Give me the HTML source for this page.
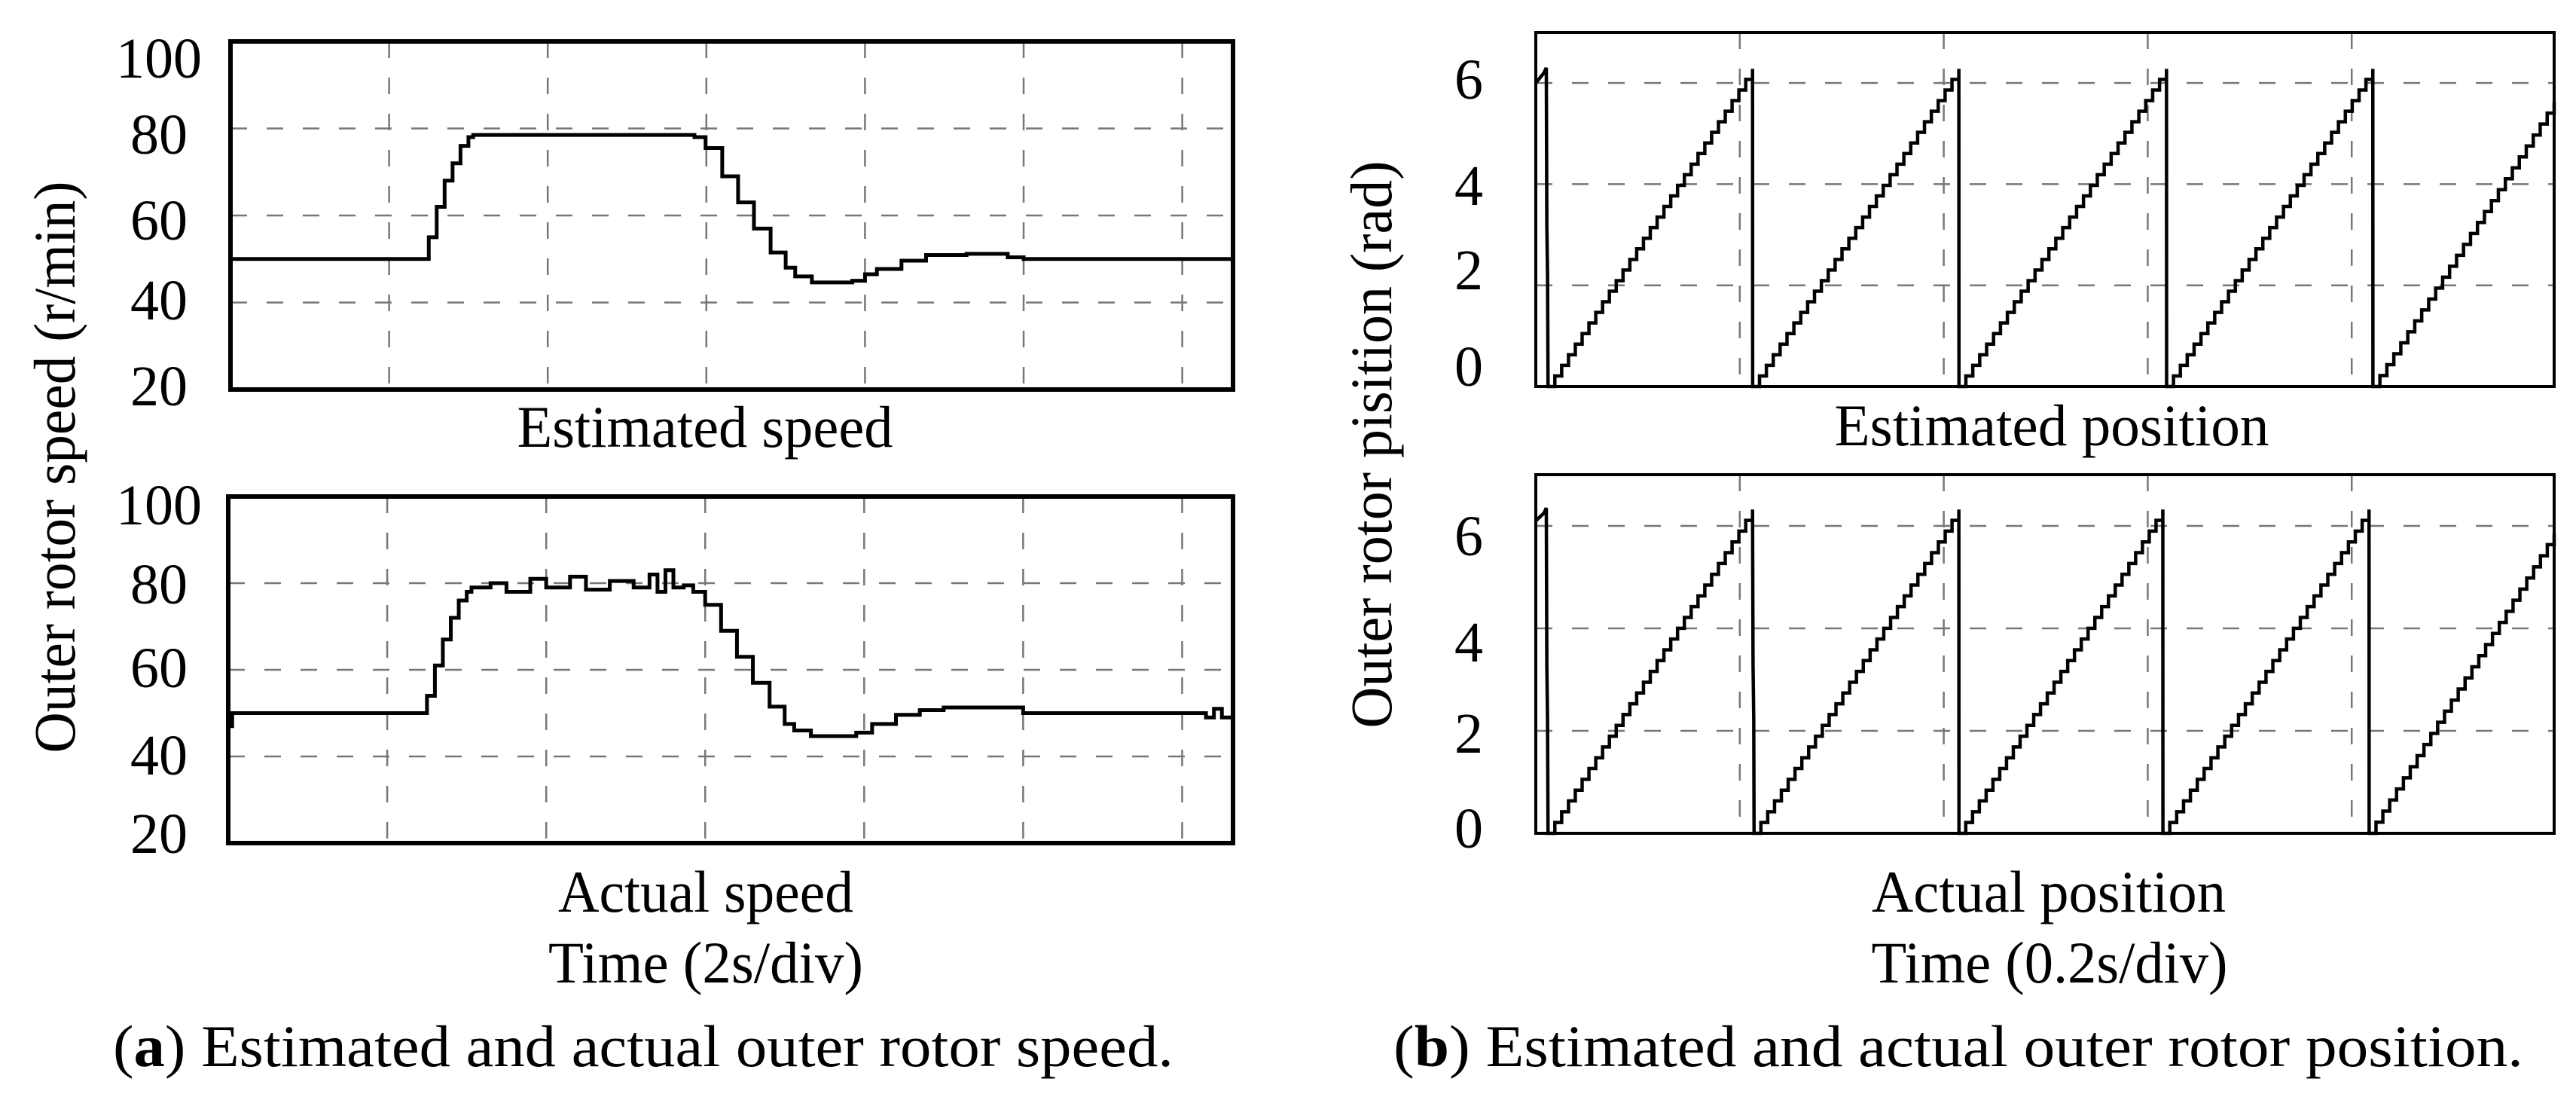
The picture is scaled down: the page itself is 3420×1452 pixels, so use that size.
<!DOCTYPE html>
<html><head><meta charset="utf-8"><style>
html,body{margin:0;padding:0;background:#fff;}
svg{display:block;font-family:"Liberation Serif",serif;}
</style></head><body>
<svg id="fig" width="3420" height="1452" viewBox="0 0 3420 1452" xmlns="http://www.w3.org/2000/svg">
<rect width="3420" height="1452" fill="#fff"/>
<g id="root"></g>
</svg>
<script>
// ---- Speed data (panel a), time in s, speed in r/min ----
const estSpeedT = [0, 2.44, 2.5, 2.6, 2.7, 2.8, 2.9, 3.0, 3.06, 5.73, 5.85, 5.99, 6.2, 6.4, 6.6, 6.81, 7.0, 7.12, 7.33, 7.6, 7.84, 8.0, 8.15, 8.46, 8.77, 9.28, 9.8, 10.0, 12.64];
const estSpeedV = [50, 50, 55, 62, 68, 72, 76, 78, 78.5, 78.5, 78, 75.5, 69, 63, 57, 51.5, 48, 46, 44.6, 44.6, 45, 46.5, 47.7, 49.6, 50.9, 51.2, 50.4, 50, 50];
const actSpeedT = [0, 0.05, 2.3, 2.44, 2.5, 2.6, 2.7, 2.8, 2.9, 3.0, 3.06, 3.3, 3.5, 3.8, 4.0, 4.3, 4.5, 4.8, 5.1, 5.3, 5.4, 5.5, 5.6, 5.73, 5.85, 6.0, 6.2, 6.4, 6.6, 6.81, 7.0, 7.12, 7.33, 7.7, 7.9, 8.1, 8.4, 8.7, 9.0, 9.8, 10.0, 12.2, 12.3, 12.4, 12.5, 12.64];
const actSpeedV = [47, 50, 50, 50, 54, 61, 67, 72, 76, 78, 79, 80, 78, 81, 79, 81.5, 78.5, 80.5, 79, 82, 78, 83, 79, 79.5, 78, 75, 69, 63, 57, 51.5, 47.5, 46, 44.7, 44.7, 45.5, 47.5, 49.6, 50.7, 51.3, 51.3, 50, 50, 49, 51, 49, 50];
const speedTicks = [20, 40, 60, 80, 100];
const speedTickLabels = ["20", "40", "60", "80", "100"];
// ---- Position data (panel b), time in s, position in rad ----
const estPosT = [0, 0.008, 0.0103, 0.0108, 0.0115, 0.012, 0.2125, 0.2126, 0.4148, 0.4149, 0.6184, 0.6185, 0.8207, 0.8208, 0.9985];
const estPosV = [6.0, 6.2, 6.3, 3.2, 2.2, 0, 6.28, 0, 6.28, 0, 6.28, 0, 6.28, 0, 5.62];
const actPosT = [0, 0.008, 0.0103, 0.0108, 0.0115, 0.012, 0.2125, 0.213, 0.2137, 0.214, 0.4148, 0.4149, 0.6148, 0.6149, 0.8170, 0.8171, 0.9985];
const actPosV = [6.1, 6.25, 6.35, 3.3, 2.2, 0, 6.32, 3.3, 2.2, 0, 6.32, 0, 6.32, 0, 6.32, 0, 5.85];
const posTicks = [0, 2, 4, 6];
const posTickLabels = ["0", "2", "4", "6"];

const NS = "http://www.w3.org/2000/svg";
const root = document.getElementById("root");
function mk(tag, attrs, parent) {
  const e = document.createElementNS(NS, tag);
  for (const k in attrs) e.setAttribute(k, attrs[k]);
  (parent || root).appendChild(e);
  return e;
}

function panel(cfg) {
  const g = mk("g", {});
  
  
  const sx = t => cfg.x0 + (t - cfg.t0) / (cfg.t1 - cfg.t0) * (cfg.x1 - cfg.x0);
  const sy = v => cfg.y1 - (v - cfg.v0) / (cfg.v1 - cfg.v0) * (cfg.y1 - cfg.y0);
  const grid = mk("g", {stroke: "#777", "stroke-width": 2.5, "stroke-dasharray": "22,26", fill: "none"}, g);
  
  
  for (let t = cfg.t0 + cfg.div; t < cfg.t1 - cfg.div * 0.05; t += cfg.div) {
    const l = mk("line", {x1: sx(t), x2: sx(t), y1: cfg.y0, y2: cfg.y1}, grid);
    
    
  }
  cfg.ticks.forEach(v => {
    if (v <= cfg.v0 || v >= cfg.v1) return;
    const l = mk("line", {x1: cfg.x0, x2: cfg.x1, y1: sy(v), y2: sy(v)}, grid);
    
    
  });
  cfg.ticks.forEach((v, i) => {
    const tx = mk("text", {x: cfg.labelX, y: cfg.labelBase[i], "font-size": 76, "text-anchor": "middle", fill: "#000"}, g);
    tx.textContent = cfg.tickLabels[i];
    
    
  });
  let d = "";
  cfg.T.forEach((t, i) => {
    const X = sx(t), Y = sy(cfg.V[i]);
    if (i === 0) { d += "M" + X + "," + Y; return; }
    if (cfg.step) { d += "H" + X + "V" + Y; return; }
    const pX = sx(cfg.T[i - 1]), pY = sy(cfg.V[i - 1]);
    const n = Math.floor((X - pX) / 9);
    if (n >= 3 && Y < pY) {
      for (let k = 1; k <= n; k++) {
        const xx = pX + (X - pX) * k / n, yy = pY + (Y - pY) * k / n;
        d += "H" + xx + "V" + yy;
      }
    } else d += "L" + X + "," + Y;
  });
  const p = mk("path", {d: d, fill: "none", stroke: "#000", "stroke-width": cfg.lw, "stroke-linejoin": "miter"}, g);
  
  
  const fr = mk("rect", {x: cfg.x0, y: cfg.y0, width: cfg.x1 - cfg.x0, height: cfg.y1 - cfg.y0, fill: "none", stroke: "#000", "stroke-width": cfg.fw}, g);
  
  
}

panel({name: "estimated-speed-plot", x0: 306, x1: 1637, y0: 55, y1: 517, t0: 0, t1: 12.64, div: 2, v0: 20, v1: 100,
  ticks: speedTicks, tickLabels: speedTickLabels, labelX: 211, labelBase: [538, 424, 318, 204, 103],
  T: estSpeedT, V: estSpeedV, step: true, lw: 5, fw: 6});
panel({name: "actual-speed-plot", x0: 303, x1: 1637, y0: 659, y1: 1119, t0: 0, t1: 12.64, div: 2, v0: 20, v1: 100,
  ticks: speedTicks, tickLabels: speedTickLabels, labelX: 211, labelBase: [1132, 1028, 912, 801, 696],
  T: actSpeedT, V: actSpeedV, step: true, lw: 5, fw: 6});
panel({name: "estimated-position-plot", x0: 2039, x1: 3391, y0: 43, y1: 513, t0: 0, t1: 0.9985, div: 0.2, v0: 0, v1: 7,
  ticks: posTicks, tickLabels: posTickLabels, labelX: 1950, labelBase: [512, 384, 272, 131],
  T: estPosT, V: estPosV, step: false, lw: 4.5, fw: 4});
panel({name: "actual-position-plot", x0: 2039, x1: 3391, y0: 630, y1: 1106, t0: 0, t1: 0.9985, div: 0.2, v0: 0, v1: 7,
  ticks: posTicks, tickLabels: posTickLabels, labelX: 1950, labelBase: [1125, 999, 878, 737],
  T: actPosT, V: actPosV, step: false, lw: 4.5, fw: 4});

function label(txt, x, y, len, name, rot) {
  const t = mk("text", {x: x, y: y, "font-size": 78, "text-anchor": "middle", fill: "#000", textLength: len, lengthAdjust: "spacingAndGlyphs"});
  if (rot) t.setAttribute("transform", "rotate(-90 " + x + " " + y + ")");
  t.textContent = txt;
  
  
  return t;
}
label("Estimated speed", 936, 593, 499, "estimated-speed-title");
label("Actual speed", 937, 1210, 392, "actual-speed-title");
label("Time (2s/div)", 937, 1304, 418, "speed-x-axis-title");
label("Outer rotor speed (r/min)", 99, 620, 759, "speed-y-axis-title", true);
label("Estimated position", 2724, 591, 577, "estimated-position-title");
label("Actual position", 2720, 1210, 470, "actual-position-title");
label("Time (0.2s/div)", 2721, 1304, 473, "position-x-axis-title");
label("Outer rotor pisition (rad)", 1847, 590, 753, "position-y-axis-title", true);

function caption(letter, rest, x, y, len, name) {
  const t = mk("text", {x: x, y: y, "font-size": 78, fill: "#000", textLength: len, lengthAdjust: "spacingAndGlyphs"});
  
  
  const a = mk("tspan", {}, t); a.textContent = "(";
  const b = mk("tspan", {"font-weight": "bold"}, t); b.textContent = letter;
  const c = mk("tspan", {}, t); c.textContent = ") " + rest;
}
caption("a", "Estimated and actual outer rotor speed.", 150, 1415, 1408, "caption-a");
caption("b", "Estimated and actual outer rotor position.", 1850, 1415, 1500, "caption-b");
</script>
</body></html>
